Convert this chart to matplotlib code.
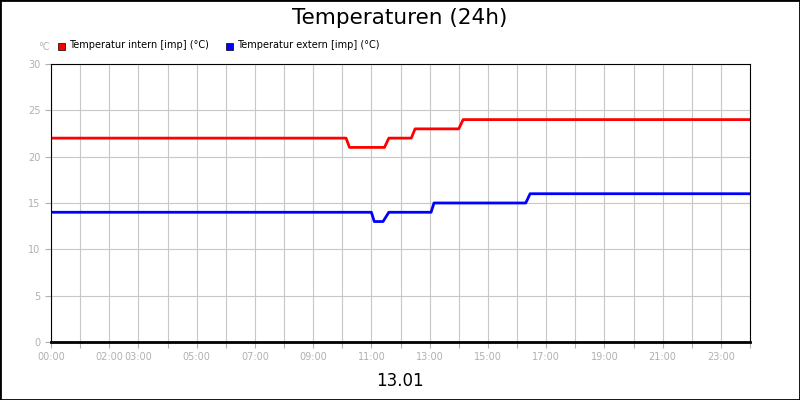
import matplotlib
matplotlib.use("Agg")
import matplotlib.pyplot as plt
from matplotlib.patches import Rectangle

# hours, values
red_t = [0, 10.13, 10.25, 11.45, 11.6, 12.37, 12.5, 14.0, 14.15, 24]
red_v = [22, 22, 21, 21, 22, 22, 23, 23, 24, 24]
blue_t = [0, 11.0, 11.1, 11.4, 11.6, 13.05, 13.15, 16.3, 16.45, 24]
blue_v = [14, 14, 13, 13, 14, 14, 15, 15, 16, 16]
xtick_hours = [0, 2, 3, 5, 7, 9, 11, 13, 15, 17, 19, 21, 23]
xtick_labels = ["00:00", "02:00", "03:00", "05:00", "07:00", "09:00", "11:00",
                "13:00", "15:00", "17:00", "19:00", "21:00", "23:00"]
yticks = [0, 5, 10, 15, 20, 25, 30]
labels = ["Temperatur intern [imp] (°C)", "Temperatur extern [imp] (°C)"]

fig = plt.figure(figsize=(8, 4), dpi=100)
fig.patches.append(Rectangle((0, 0), 1, 1, transform=fig.transFigure, fill=False,
                             edgecolor="black", linewidth=2))
ax = fig.add_axes([51/800, 1-342/400, 699/800, 278/400])
ax.plot(red_t, red_v, color="#ff0000", lw=2)
ax.plot(blue_t, blue_v, color="#0000ff", lw=2)
ax.set_xlim(0, 24)
ax.set_ylim(0, 30)
ax.set_xticks(range(25), minor=False)
ax.set_xticklabels([xtick_labels[xtick_hours.index(h)] if h in xtick_hours else "" for h in range(25)])
ax.set_yticks(yticks)
ax.grid(True, color="#c8c8c8", lw=0.8)
ax.tick_params(colors="#b0b0b0", labelsize=7, length=4, labelcolor="#b0b0b0")
for s in ax.spines.values():
    s.set_color("black")
ax.spines["bottom"].set_linewidth(2)
fig.text(0.5, 1-18/400, "Temperaturen (24h)", ha="center", va="center", fontsize=15.5)
fig.text(0.5, 1-381/400, "13.01", ha="center", va="center", fontsize=12)
fig.text(38/800, 1-47/400, "°C", ha="left", va="center", fontsize=7, color="#b0b0b0")
for x, c, lab in [(58, "#ff0000", labels[0]), (226, "#0000ff", labels[1])]:
    fig.patches.append(Rectangle((x/800, 1-50/400), 7/800, 7/400, transform=fig.transFigure,
                                 facecolor=c, edgecolor="black", lw=0.5))
    fig.text((x+11)/800, 1-45.5/400, lab, ha="left", va="center", fontsize=7)
fig.savefig("out.png", dpi=100)
